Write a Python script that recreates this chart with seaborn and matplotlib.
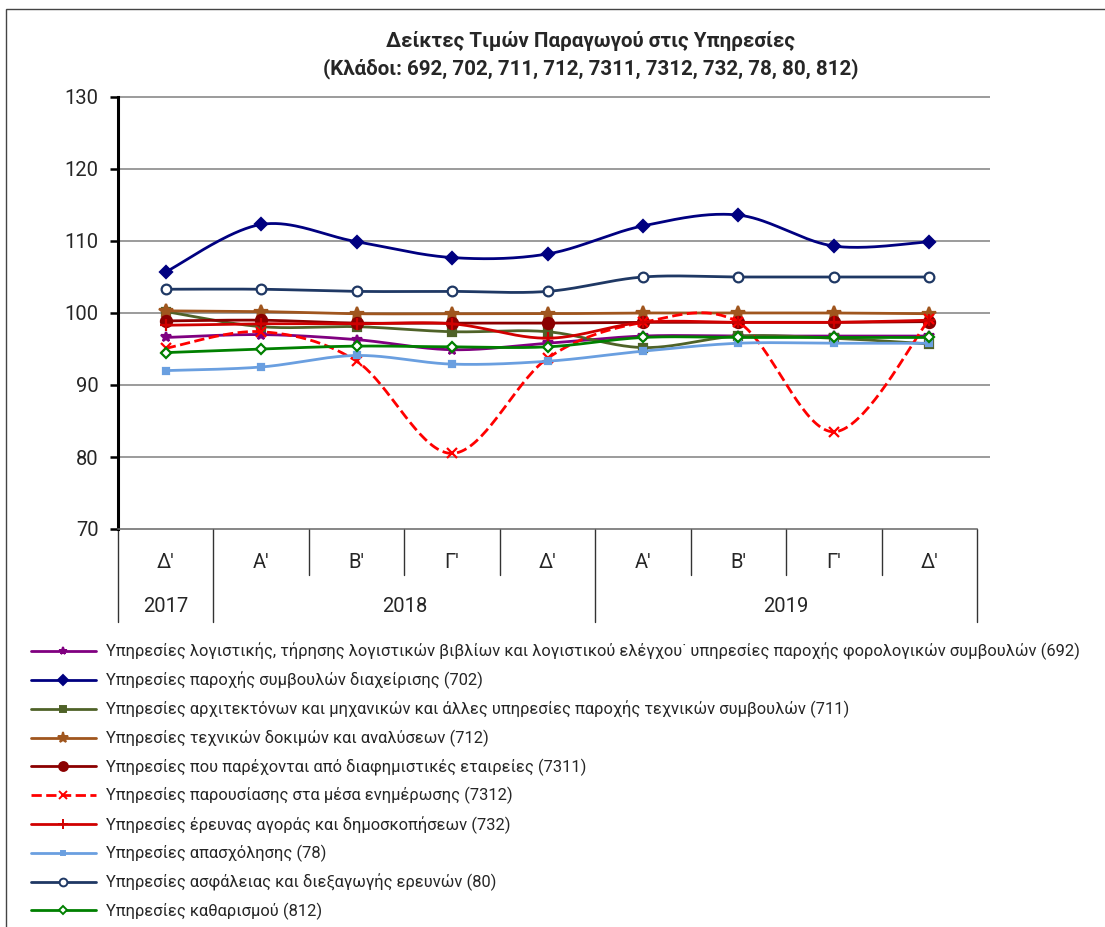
import numpy as np
import matplotlib
matplotlib.use('Agg')
import matplotlib.pyplot as plt
import matplotlib.transforms as mtransforms
from matplotlib.lines import Line2D
from matplotlib.patches import Rectangle
import seaborn as sns

# quarters on the category axis, grouped by year
quarters = ["Δ'", "Α'", "Β'", "Γ'", "Δ'", "Α'", "Β'", "Γ'", "Δ'"]
years = ['2017', '2018', '2019']
year_first = [0, 1, 5]
year_last = [0, 4, 8]

# index values
v692 = [96.6, 97.0, 96.3, 94.9, 95.8, 96.8, 96.8, 96.8, 96.8]
v702 = [105.7, 112.3, 109.9, 107.7, 108.2, 112.1, 113.6, 109.3, 109.9]
v711 = [100.2, 98.1, 98.1, 97.4, 97.4, 95.2, 96.8, 96.5, 95.7]
v712 = [100.3, 100.2, 99.9, 99.9, 99.9, 100.0, 100.0, 100.0, 99.9]
v7311 = [98.9, 99.0, 98.6, 98.6, 98.6, 98.7, 98.7, 98.7, 98.8]
v7312 = [95.1, 97.4, 93.3, 80.5, 93.7, 98.7, 98.7, 83.5, 99.1]
v732 = [98.3, 98.5, 98.5, 98.5, 96.5, 98.7, 98.7, 98.7, 99.0]
v78 = [92.0, 92.5, 94.1, 92.9, 93.3, 94.7, 95.8, 95.8, 95.8]
v80 = [103.3, 103.3, 103.0, 103.0, 103.0, 105.0, 105.0, 105.0, 105.0]
v812 = [94.5, 95.0, 95.4, 95.3, 95.3, 96.6, 96.6, 96.6, 96.6]

labels = [
    'Υπηρεσίες λογιστικής, τήρησης λογιστικών βιβλίων και λογιστικού ελέγχου˙ υπηρεσίες παροχής φορολογικών συμβουλών (692)',
    'Υπηρεσίες παροχής συμβουλών διαχείρισης (702)',
    'Υπηρεσίες αρχιτεκτόνων και μηχανικών και άλλες υπηρεσίες παροχής τεχνικών συμβουλών (711)',
    'Υπηρεσίες τεχνικών δοκιμών και αναλύσεων (712)',
    'Υπηρεσίες που παρέχονται από διαφημιστικές εταιρείες (7311)',
    'Υπηρεσίες παρουσίασης στα μέσα ενημέρωσης (7312)',
    'Υπηρεσίες έρευνας αγοράς και δημοσκοπήσεων (732)',
    'Υπηρεσίες απασχόλησης (78)',
    'Υπηρεσίες ασφάλειας και διεξαγωγής ερευνών (80)',
    'Υπηρεσίες καθαρισμού (812)',
]
series = [v692, v702, v711, v712, v7311, v7312, v732, v78, v80, v812]

# color, linestyle, marker, markersize, marker face color
styles = [
    ('#800080', '-', '*', 7, '#800080'),
    ('#000080', '-', 'D', 6, '#000080'),
    ('#4F6228', '-', 's', 6, '#4F6228'),
    ('#A0561E', '-', '*', 10, '#A0561E'),
    ('#8B0000', '-', 'o', 8, '#8B0000'),
    ('#FF0000', '--', 'x', 7, '#FF0000'),
    ('#D00000', '-', '+', 9, '#D00000'),
    ('#6A9FE0', '-', 's', 4, '#6A9FE0'),
    ('#1F3864', '-', 'o', 7, 'white'),
    ('#008000', '-', 'D', 5, 'white'),
]


def smooth(y, n=40):
    # bezier smoothing like the spreadsheet "smoothed line" option
    x = np.arange(len(y), dtype=float)
    y = np.asarray(y, dtype=float)
    t = np.linspace(0, 1, n)
    xs, ys = [], []
    for i in range(len(y) - 1):
        p0 = max(i - 1, 0)
        p3 = min(i + 2, len(y) - 1)
        c1x = x[i] + (x[i + 1] - x[p0]) / 6
        c1y = y[i] + (y[i + 1] - y[p0]) / 6
        c2x = x[i + 1] - (x[p3] - x[i]) / 6
        c2y = y[i + 1] - (y[p3] - y[i]) / 6
        b = [(1 - t) ** 3, 3 * (1 - t) ** 2 * t, 3 * (1 - t) * t ** 2, t ** 3]
        xs.append(b[0] * x[i] + b[1] * c1x + b[2] * c2x + b[3] * x[i + 1])
        ys.append(b[0] * y[i] + b[1] * c1y + b[2] * c2y + b[3] * y[i + 1])
    return np.concatenate(xs), np.concatenate(ys)


sns.set_theme(style='white')
plt.rcParams['font.family'] = ['Roboto', 'DejaVu Sans']

fig = plt.figure(figsize=(11.05, 9.27), dpi=100)
ax = fig.add_axes([118 / 1105, 1 - 529 / 927, (977 - 118) / 1105, (529 - 97) / 927])

for vals, (col, ls, mk, ms, mfc) in zip(series, styles):
    xs, ys = smooth(vals)
    sns.lineplot(x=xs, y=ys, sort=False, estimator=None, color=col,
                 linewidth=2.0, linestyle=ls, ax=ax, legend=False)
    ax.plot(range(len(vals)), vals, linestyle='none', marker=mk, markersize=ms,
            color=col, markerfacecolor=mfc, markeredgecolor=col, markeredgewidth=1.6)

ax.set_xlim(-0.5, len(quarters) - 0.5)
ax.set_ylim(70, 130)
ax.set_yticks(range(70, 131, 10))
ax.tick_params(axis='y', labelsize=14.5, length=6, width=1.8, color='black',
               direction='out', left=True, pad=8)
ax.set_xticks([])

# gridlines run slightly past the last category
ax.hlines(range(80, 131, 10), 0, 1.015, transform=ax.get_yaxis_transform(),
          colors='#808080', linewidth=1.1, clip_on=False, zorder=0)

for s in ['top', 'right']:
    ax.spines[s].set_visible(False)
ax.spines['left'].set_linewidth(2.2)
ax.spines['left'].set_color('black')
ax.spines['bottom'].set_linewidth(1.1)
ax.spines['bottom'].set_color('#666666')

# category table under the axis
trans = mtransforms.blended_transform_factory(ax.transData, ax.transAxes)
ph = (529 - 97)
q_drop = (575 - 529) / ph
y_drop = (622 - 529) / ph
edges = np.arange(len(quarters) + 1) - 0.5
year_edges = [year_first[0] - 0.5] + [l + 0.5 for l in year_last]
for e in edges:
    d = y_drop if e in year_edges else q_drop
    ax.plot([e, e], [0, -d], transform=trans, color='#333333', lw=1.0, clip_on=False)
for i, q in enumerate(quarters):
    ax.text(i, -(562 - 529) / ph, q, transform=trans, ha='center', va='center', fontsize=14.5)
for yr, a, b in zip(years, year_first, year_last):
    ax.text((a + b) / 2, -(607 - 529) / ph, yr, transform=trans, ha='center',
            va='center', fontsize=14.5)

fig.text(591 / 1105, 1 - 41 / 927, 'Δείκτες Τιμών Παραγωγού στις Υπηρεσίες', ha='center',
         va='center', fontsize=14.8, fontweight='bold')
fig.text(591 / 1105, 1 - 69 / 927, '(Κλάδοι: 692, 702, 711, 712, 7311, 7312, 732, 78, 80, 812)',
         ha='center', va='center', fontsize=14.8, fontweight='bold')

handles = [Line2D([], [], color=c, linestyle=ls, linewidth=2.0, marker=mk,
                  markersize=ms * 0.8, markerfacecolor=mfc, markeredgecolor=c,
                  markeredgewidth=1.4)
           for (c, ls, mk, ms, mfc) in styles]
fig.legend(handles, labels, loc='upper left', bbox_to_anchor=(24 / 1105, 1 - 636 / 927),
           frameon=False, fontsize=11.9, handlelength=3.95, handletextpad=0.6,
           labelspacing=0.69, borderaxespad=0)

# chart border (top and left edges visible)
fig.patches.append(Rectangle((6 / 1105, -0.05), 1.1, 1 - 9 / 927 + 0.05,
                             transform=fig.transFigure, fill=False,
                             edgecolor='#444444', linewidth=1.0))

fig.savefig('out.png', dpi=100)
